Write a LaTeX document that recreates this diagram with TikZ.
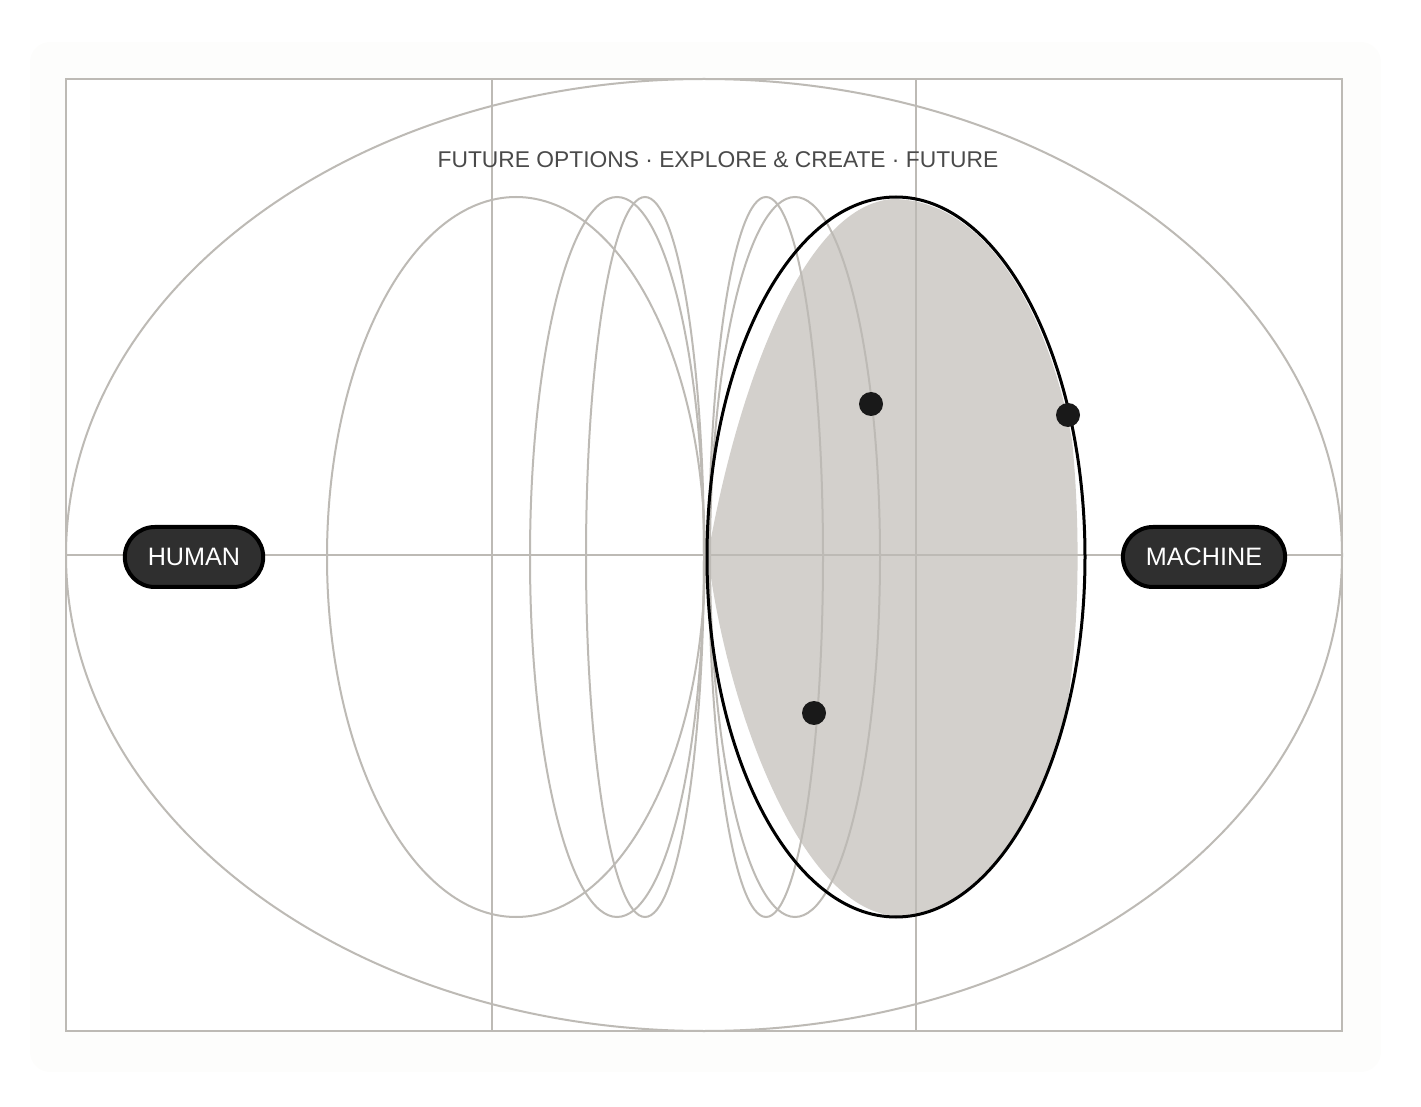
\documentclass[tikz,border=0pt]{standalone}
\usepackage{fontspec}
\setmainfont{Liberation Sans}
\usepackage{tikz}
\usetikzlibrary{positioning,calc}

\definecolor{gridgray}{HTML}{BDBAB5}
\definecolor{lensgray}{HTML}{D3D0CC}
\definecolor{pilldark}{HTML}{2F2F2F}
\definecolor{titlegray}{HTML}{4A4A4A}
\definecolor{paper}{HTML}{FDFDFC}

\begin{document}
\begin{tikzpicture}[x=0.5pt,y=0.5pt,yscale=-1,
    thin line/.style={draw=gridgray,line width=1pt},
    orbit/.style={draw=gridgray,line width=1pt},
    pill/.style={draw=black,line width=2pt,fill=pilldark,rounded corners=15pt,
        inner xsep=11.5pt,minimum height=30pt,text=white,font=\fontsize{12.6}{14}\selectfont},
    dot/.style={circle,fill=black!90,inner sep=0pt,minimum size=12pt}]
        \useasboundingbox (0,0) rectangle (1421,1107);

        % Background sheet
        \fill[paper,rounded corners=10pt] (30,42) rectangle (1381,1072);
        \fill[white] (66,79) rectangle (1342,1031);

        % Lens fill
        \fill[lensgray] (708,555) .. controls (735,400) and (800,205) .. (893,199)
            .. controls (990,200) and (1050,320) .. (1072,440)
            .. controls (1080,520) and (1080,620) .. (1068,700)
            .. controls (1040,830) and (975,916) .. (900,916)
            .. controls (800,916) and (725,700) .. (708,555);

        % Frame and grid
        \coordinate (frameNW) at (66,79);
        \coordinate (frameSE) at (1342,1031);
        \coordinate (midW) at (66,555);
        \coordinate (midE) at (1342,555);
        \coordinate (colA top) at (492,79);
        \coordinate (colA bot) at (492,1031);
        \coordinate (colB top) at (916,79);
        \coordinate (colB bot) at (916,1031);
        \draw[thin line] (frameNW) rectangle (frameSE);
        \draw[thin line] (colA top) -- (colA bot);
        \draw[thin line] (colB top) -- (colB bot);
        \draw[thin line] (midW) -- (midE);

        % Outer ellipse
        \draw[thin line] (704,555) ellipse [x radius=638, y radius=476];

        % Orbit ellipses
        \draw[orbit] (516,557) ellipse [x radius=189, y radius=360];
        \draw[orbit] (617,557) ellipse [x radius=87, y radius=360];
        \draw[orbit] (645,557) ellipse [x radius=59, y radius=360];
        \draw[orbit] (766,557) ellipse [x radius=57, y radius=360];
        \draw[orbit] (795,557) ellipse [x radius=85, y radius=360];

        % Selected ellipse
        \draw[black,line width=1.5pt] (896,557) ellipse [x radius=189, y radius=360];

        % Points
        \node[dot] (pointA) at (871,404) {};
        \node[dot] (pointB) at (1068,415) {};
        \node[dot] (pointC) at (814,713) {};

        % Title
        \node[text=titlegray,font=\fontsize{11.4}{13}\selectfont] (title) at (718,160)
            {FUTURE OPTIONS \textperiodcentered{} EXPLORE \& CREATE \textperiodcentered{} FUTURE};

        % Poles
        \node[pill] (human) at (194,557) {HUMAN};
        \node[pill] (machine) at (1204,557) {MACHINE};
    \end{tikzpicture}
\end{document}
